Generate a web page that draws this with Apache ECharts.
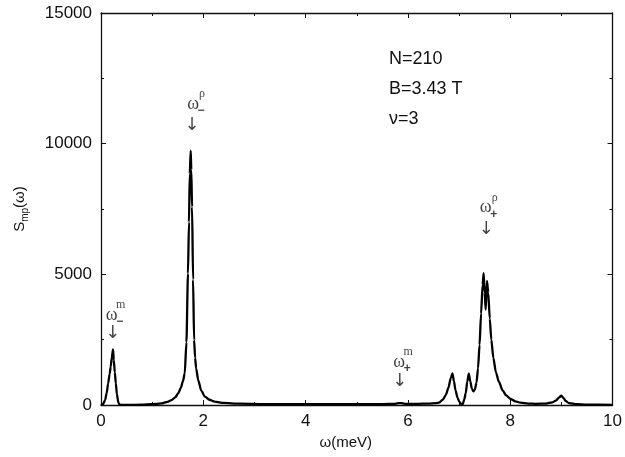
<!DOCTYPE html>
<html>
<head>
<meta charset="utf-8">
<script src="https://cdn.jsdelivr.net/npm/echarts@6/dist/echarts.min.js"></script>
<style>
html,body{margin:0;padding:0;background:#fff;}
#chart{width:625px;height:457px;}
</style>
</head>
<body>
<div id="chart"></div>
<script>
// ω (meV) and S_mp(ω)
const omega = [0.00,0.04,0.08,0.11,0.14,0.17,0.19,0.21,0.235,0.25,0.27,0.29,0.31,0.34,0.37,0.5,0.8,
  1.0,1.18,1.30,1.38,1.45,1.51,1.56,1.60,1.637,1.67,1.70,1.72,1.735,1.754,1.765,1.78,1.80,1.82,1.84,1.86,1.90,1.96,
  2.03,2.12,2.22,2.4,2.7,3.2,4.0,5.0,5.5,5.75,5.83,5.86,5.9,5.95,6.2,6.4,6.55,6.61,6.68,6.74,6.79,6.84,6.87,6.90,6.93,6.97,
  7.00,7.04,7.07,7.10,7.13,7.16,7.19,7.22,7.25,7.28,7.31,7.34,7.37,7.40,7.43,7.46,7.48,7.50,7.52,7.545,7.57,7.60,7.63,7.67,7.72,7.78,7.85,7.92,
  8.0,8.1,8.2,8.35,8.5,8.7,8.82,8.9,8.95,9.0,9.04,9.08,9.15,9.3,9.5,10.0];
const smp = [0,30,190,450,830,1200,1470,1800,2130,1720,1250,830,420,80,10,5,10,
  30,60,120,190,290,450,650,900,1210,2400,5030,7000,8850,9730,9000,7580,4800,2480,1800,1400,955,550,
  320,200,130,80,50,35,30,30,35,45,70,75,60,45,45,55,70,90,200,380,650,1050,1210,900,560,280,
  140,40,30,200,450,900,1200,900,620,520,600,850,1400,2300,3500,4600,5050,4300,3650,4750,4300,3300,2500,1800,1250,880,560,370,
  240,140,90,55,45,55,100,180,280,360,270,160,70,30,15,5];

// axis ticks
const xTicks = [0, 2, 4, 6, 8, 10];
const yTicks = [0, 5000, 10000, 15000];

// peak annotations: ω glyph position (data units), sub/superscripts, arrow position
const annoX   = [0.21, 1.80, 5.83, 7.52];
const annoY   = [3450, 11520, 1640, 7560];
const annoSub = ['−', '−', '+', '+'];
const annoSup = ['m', 'ρ', 'm', 'ρ'];
const arrowX  = [0.23, 1.78, 5.84, 7.53];
const arrowY  = [2750, 10720, 900, 6740];

// parameter text
const infoLines = ['N=210', 'B=3.43 T', 'ν=3'];

const chart = echarts.init(document.getElementById('chart'), null, {renderer: 'canvas'});
const lineData = omega.map((w, i) => [w, smp[i]]);

const annoData = [];
annoX.forEach((x, i) => {
  annoData.push({value: [x, annoY[i]], label: {formatter: 'ω', fontFamily: 'Liberation Serif', fontSize: 18}});
  annoData.push({value: [x, annoY[i]], label: {formatter: annoSup[i], fontFamily: 'Liberation Serif', fontSize: 12, offset: [9, -10]}});
  annoData.push({value: [x, annoY[i]], label: {formatter: annoSub[i], fontFamily: 'Liberation Sans', fontSize: 12, fontWeight: 'bold', offset: [8, 7]}});
  annoData.push({value: [arrowX[i], arrowY[i]], label: {formatter: '↓', fontFamily: 'DejaVu Sans', fontSize: 18}});
});

const axisCommon = {
  type: 'value',
  axisLine: {show: true, onZero: false, lineStyle: {color: '#111', width: 1.3}},
  axisTick: {show: true, inside: true, length: 5, lineStyle: {color: '#111', width: 1}},
  minorTick: {show: true, splitNumber: 2, length: 3, lineStyle: {color: '#111', width: 1}},
  splitLine: {show: false},
  minorSplitLine: {show: false}
};
const plain = v => String(v);

chart.setOption({
  animation: false,
  backgroundColor: '#fff',
  grid: {left: 101, right: 11, top: 13, bottom: 52, containLabel: false},
  xAxis: [
    Object.assign({}, axisCommon, {
      position: 'bottom', min: xTicks[0], max: xTicks[xTicks.length - 1], interval: 2,
      name: 'ω(meV)', nameLocation: 'middle', nameGap: 30,
      nameTextStyle: {fontFamily: 'Liberation Sans', fontSize: 15, color: '#111', padding: [0, 22, 0, 0]},
      axisLabel: {fontFamily: 'Liberation Sans', fontSize: 17, color: '#111', margin: 8, formatter: plain}
    }),
    Object.assign({}, axisCommon, {
      position: 'top', min: xTicks[0], max: xTicks[xTicks.length - 1], interval: 2,
      axisLabel: {show: false}
    })
  ],
  yAxis: [
    Object.assign({}, axisCommon, {
      position: 'left', min: yTicks[0], max: yTicks[yTicks.length - 1], interval: 5000,
      name: '{s|S}{sub|mp}{s|(ω)}', nameLocation: 'middle', nameGap: 71, nameRotate: 90,
      nameTextStyle: {
        fontFamily: 'Liberation Sans', fontSize: 15, color: '#111',
        rich: {
          s: {fontFamily: 'Liberation Sans', fontSize: 15, color: '#111', lineHeight: 20, verticalAlign: 'middle'},
          sub: {fontFamily: 'Liberation Sans', fontSize: 10, color: '#111', lineHeight: 20, verticalAlign: 'bottom'}
        }
      },
      axisLabel: {fontFamily: 'Liberation Sans', fontSize: 17, color: '#111', margin: 9, formatter: plain}
    }),
    Object.assign({}, axisCommon, {
      position: 'right', min: yTicks[0], max: yTicks[yTicks.length - 1], interval: 5000,
      axisLabel: {show: false}
    })
  ],
  series: [
    {
      type: 'line',
      data: lineData,
      showSymbol: false,
      smooth: 0.25,
      smoothMonotone: 'x',
      lineStyle: {color: '#000', width: 2.3},
      z: 3
    },
    {
      type: 'scatter',
      data: annoData,
      symbolSize: 1,
      itemStyle: {color: 'rgba(0,0,0,0)'},
      label: {show: true, position: 'inside', color: '#111'},
      silent: true,
      z: 4
    }
  ],
  graphic: infoLines.map((t, i) => ({
    type: 'text',
    left: 389,
    top: 50 + i * 30,
    style: {text: t, fontFamily: 'Liberation Sans', fontSize: 18, fill: '#111'}
  }))
});
</script>
</body>
</html>
